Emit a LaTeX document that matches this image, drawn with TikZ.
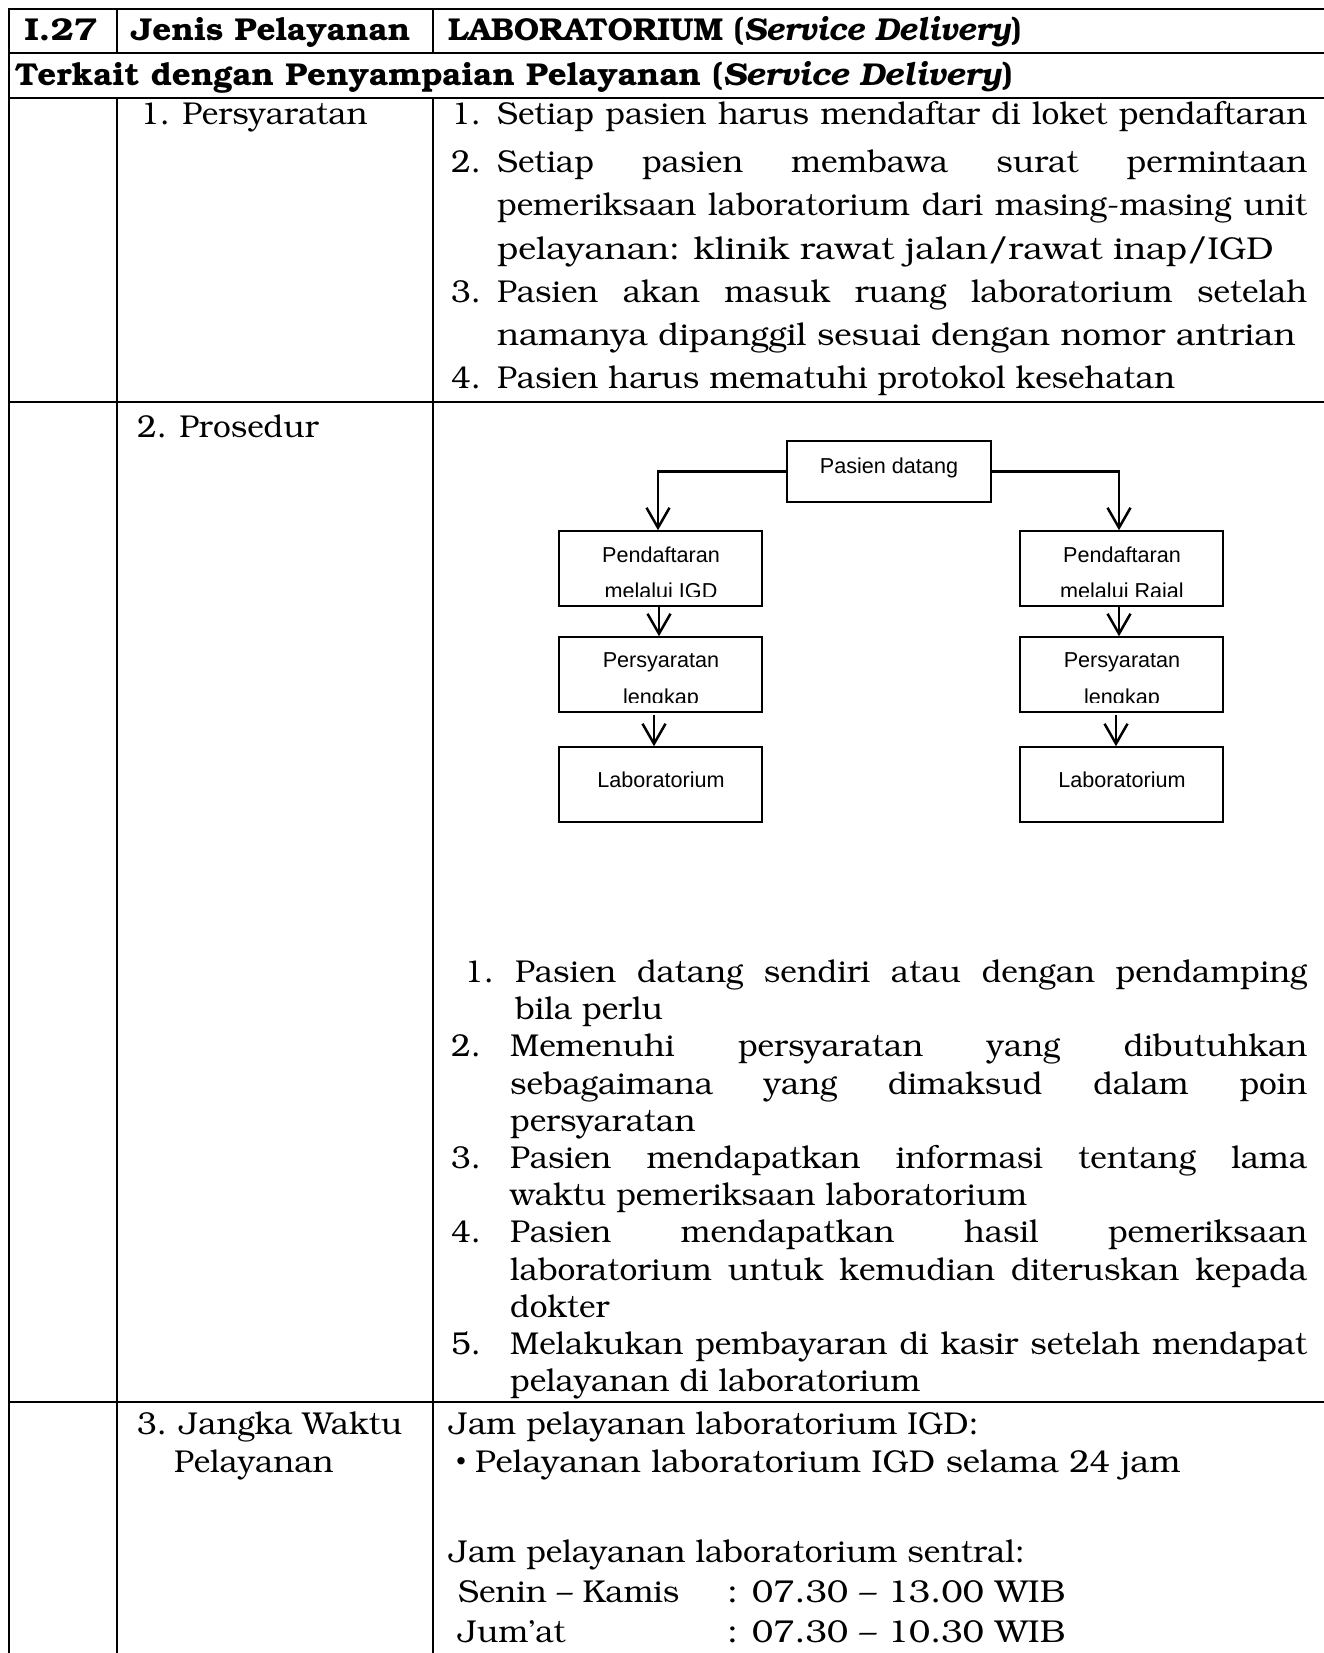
\documentclass[tikz,border=0pt]{standalone}
\usepackage{fontspec}
\newfontfamily\flowfont{Liberation Sans}
\usepackage[T1]{fontenc}
\usepackage{bookman}
\usetikzlibrary{arrows.meta}

\begin{document}
\begin{tikzpicture}[x=1pt,y=-1pt,
  grid/.style={line width=2.6pt, line cap=rect},
  txt/.style={anchor=base west, inner sep=0pt, font=\fontsize{31.6}{38}\selectfont},
  hdr/.style={txt, font=\fontsize{31.6}{38}\selectfont\bfseries},
  box/.style={draw, line width=1.5pt, rectangle, inner sep=0pt},
  ftxt/.style={anchor=base, inner sep=0pt, font=\flowfont\fontsize{21.6}{25}\selectfont},
  arr/.style={line width=2.5pt, -{Straight Barb[length=20pt,width=23pt,line width=2.5pt]}}
]
\useasboundingbox (0,0) rectangle (1323,1653);

% table rules
\draw[grid] (9,9) -- (1330,9);
\draw[grid] (9,53) -- (1330,53);
\draw[grid] (9,98) -- (1330,98);
\draw[grid] (9,402) -- (1330,402);
\draw[grid] (9,1402) -- (1330,1402);
\draw[grid] (9,9) -- (9,1660);
\draw[grid] (117,9) -- (117,53);
\draw[grid] (117,98) -- (117,1660);
\draw[grid] (433,9) -- (433,53);
\draw[grid] (433,98) -- (433,1660);

% header rows
\node[hdr, anchor=base] (h1) at (61,41) {\scalebox{1.12}[1]{I.27}};
\node[hdr] (h2) at (131,41) {\scalebox{1.05}[1]{Jenis Pelayanan}};
\node[hdr] (h3) at (448,41) {LABORATORIUM (\textit{Service Delivery})};
\node[hdr] (h4) at (15,86) {\scalebox{1.044}[1]{Terkait dengan Penyampaian Pelayanan (\textit{Service Delivery})}};

% left labels
\node[txt] (c1) at (140,125) {1. Persyaratan};
\node[txt] (c2) at (137,437) {2. Prosedur};
\node[txt] (c3) at (137,1434) {3. Jangka Waktu};
\node[txt] (c3b) at (174,1472) {Pelayanan};

% requirements
\node[txt] (pn1) at (451,125) {1.};
\node[txt] (p1) at (497,125) {\makebox[810pt][s]{Setiap pasien harus mendaftar di loket pendaftaran}};
\node[txt] (pn2) at (451,173) {2.};
\node[txt] (p2) at (497,173) {\makebox[810pt][s]{Setiap pasien membawa surat permintaan}};
\node[txt] (p2b) at (497,216) {\makebox[810pt][s]{pemeriksaan laboratorium dari masing-masing unit}};
\node[txt] (p2c) at (497,259) {\scalebox{1.08}[1]{pelayanan: klinik rawat jalan/rawat inap/IGD}};
\node[txt] (pn3) at (451,302) {3.};
\node[txt] (p3) at (497,302) {\makebox[810pt][s]{Pasien akan masuk ruang laboratorium setelah}};
\node[txt] (p3b) at (497,345) {\scalebox{1.05}[1]{namanya dipanggil sesuai dengan nomor antrian}};
\node[txt] (pn4) at (451,388) {4.};
\node[txt] (p4) at (497,388) {Pasien harus mematuhi protokol kesehatan};

% flowchart boxes
\node[box, minimum width=204pt, minimum height=61pt] (pd) at (889,471.5) {};
\node[ftxt] (pdt) at (889,473) {Pasien datang};

\node[box, minimum width=203pt, minimum height=75pt] (L1) at (660.5,568.5) {};
\node[box, minimum width=203pt, minimum height=75pt] (L2) at (660.5,674.5) {};
\node[box, minimum width=203pt, minimum height=75pt] (L3) at (660.5,784.5) {};
\node[box, minimum width=203pt, minimum height=75pt] (R1) at (1121.5,568.5) {};
\node[box, minimum width=203pt, minimum height=75pt] (R2) at (1121.5,674.5) {};
\node[box, minimum width=203pt, minimum height=75pt] (R3) at (1121.5,784.5) {};

\begin{scope}
  \clip (559,531) rectangle (762,596);
  \node[ftxt] (l1a) at (661,562) {Pendaftaran};
  \node[ftxt] (l1b) at (661,598) {melalui IGD};
\end{scope}
\begin{scope}
  \clip (559,637) rectangle (762,702);
  \node[ftxt] (l2a) at (661,667) {Persyaratan};
  \node[ftxt] (l2b) at (661,704) {lengkap};
\end{scope}
\node[ftxt] (l3a) at (661,787) {Laboratorium};

\begin{scope}
  \clip (1020,531) rectangle (1223,596);
  \node[ftxt] (r1a) at (1122,562) {Pendaftaran};
  \node[ftxt] (r1b) at (1122,598) {melalui Rajal};
\end{scope}
\begin{scope}
  \clip (1020,637) rectangle (1223,702);
  \node[ftxt] (r2a) at (1122,667) {Persyaratan};
  \node[ftxt] (r2b) at (1122,704) {lengkap};
\end{scope}
\node[ftxt] (r3a) at (1122,787) {Laboratorium};

% flowchart connectors
\draw[arr] (pd.west) -| ([xshift=-2.5pt]L1.north);
\draw[arr] (pd.east) -| ([xshift=-2.5pt]R1.north);
\draw[arr] ([xshift=-1.5pt]L1.south) -- ([xshift=-1.5pt]L2.north);
\draw[arr] ([xshift=-2.5pt]R1.south) -- ([xshift=-2.5pt]R2.north);
\draw[arr] ([xshift=-6.5pt,yshift=-2pt]L2.south) -- ([xshift=-6.5pt]L3.north);
\draw[arr] ([xshift=-5.5pt,yshift=-2pt]R2.south) -- ([xshift=-5.5pt]R3.north);

% procedure steps
\node[txt] (qn1) at (464,982) {1.};
\node[txt] (q1) at (515,982) {\makebox[792pt][s]{Pasien datang sendiri atau dengan pendamping}};
\node[txt] (q1b) at (515,1019) {bila perlu};
\node[txt] (qn2) at (451,1056) {2.};
\node[txt] (q2) at (510,1056) {\makebox[797pt][s]{Memenuhi persyaratan yang dibutuhkan}};
\node[txt] (q2b) at (510,1094) {\makebox[797pt][s]{sebagaimana yang dimaksud dalam poin}};
\node[txt] (q2c) at (510,1131) {persyaratan};
\node[txt] (qn3) at (451,1168) {3.};
\node[txt] (q3) at (510,1168) {\makebox[797pt][s]{Pasien mendapatkan informasi tentang lama}};
\node[txt] (q3b) at (510,1205) {waktu pemeriksaan laboratorium};
\node[txt] (qn4) at (451,1242) {4.};
\node[txt] (q4) at (510,1242) {\makebox[797pt][s]{Pasien mendapatkan hasil pemeriksaan}};
\node[txt] (q4b) at (510,1280) {\makebox[797pt][s]{laboratorium untuk kemudian diteruskan kepada}};
\node[txt] (q4c) at (510,1317) {dokter};
\node[txt] (qn5) at (451,1354) {5.};
\node[txt] (q5) at (510,1354) {\makebox[797pt][s]{Melakukan pembayaran di kasir setelah mendapat}};
\node[txt] (q5b) at (510,1391) {pelayanan di laboratorium};

% service hours
\node[txt] (j1) at (449,1434) {Jam pelayanan laboratorium IGD:};
\node[txt, font=\fontsize{21.5}{24}\selectfont] (jb) at (456,1469) {\textbullet};
\node[txt] (j2) at (475,1472) {\scalebox{1.04}[1]{Pelayanan laboratorium IGD selama 24 jam}};
\node[txt] (j3) at (449,1562) {Jam pelayanan laboratorium sentral:};
\node[txt] (j4) at (458,1602) {Senin -- Kamis};
\node[txt] (j4t) at (727,1602) {\scalebox{1.09}[1]{: 07.30 -- 13.00 WIB}};
\node[txt] (j5) at (458,1642) {Jum'at};
\node[txt] (j5t) at (727,1642) {\scalebox{1.09}[1]{: 07.30 -- 10.30 WIB}};
\end{tikzpicture}
\end{document}
